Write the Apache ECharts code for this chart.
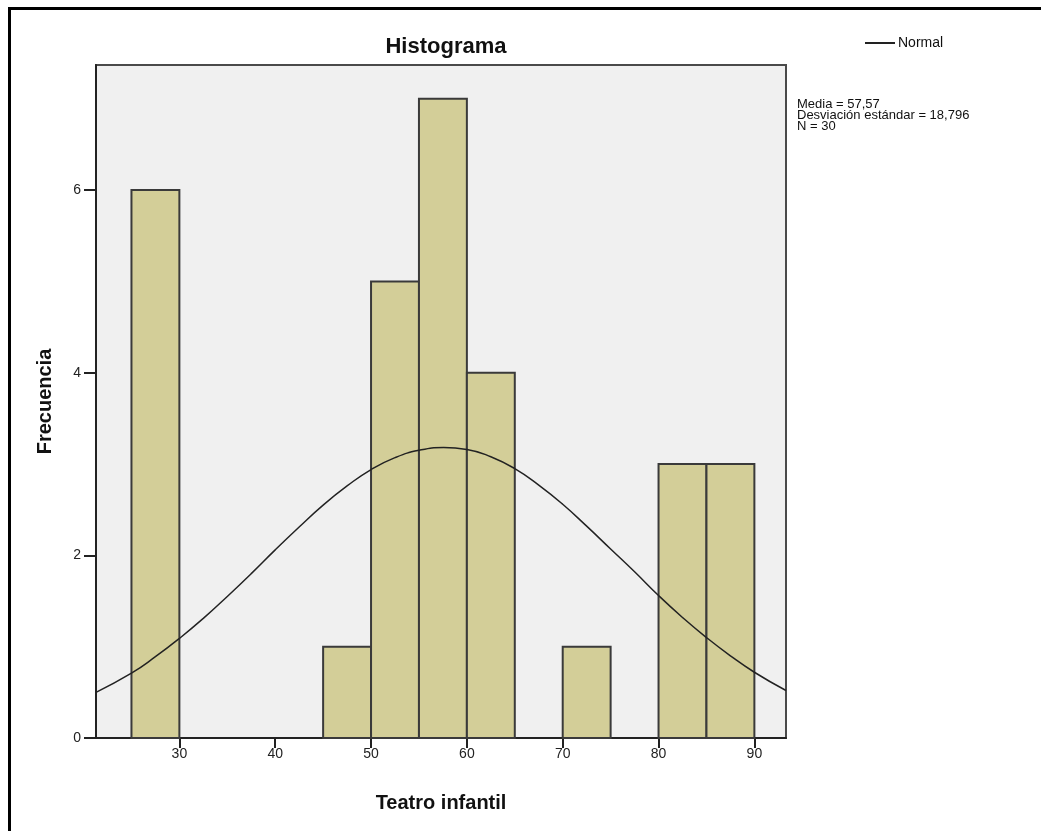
<!DOCTYPE html>
<html>
<head>
<meta charset="utf-8">
<script src="https://cdn.jsdelivr.net/npm/echarts@6/dist/echarts.min.js"></script>
<style>
  html, body { margin: 0; padding: 0; background: #fff; overflow: hidden; }
  #frame { position: absolute; left: 8px; top: 7px; width: 1200px; height: 1000px;
           border-left: 3px solid #000; border-top: 3px solid #000; }
  #chart { position: absolute; left: 0; top: 0; width: 1041px; height: 831px; }
</style>
</head>
<body>
<div id="frame"></div>
<div id="chart"></div>
<script>
// histogram bins (Teatro infantil)
let binStart = [25, 45, 50, 55, 60, 70, 80, 85];
let binEnd   = [30, 50, 55, 60, 65, 75, 85, 90];
let counts   = [6, 1, 5, 7, 4, 1, 3, 3];

// normal curve
let curveX = [21.3, 25, 27.5, 30, 32.5, 35, 37.5, 40, 42.5, 45, 47.5, 50, 52.5, 55, 57.57,
              60, 62.5, 65, 67.5, 70, 72.5, 75, 77.5, 80, 82.5, 85, 87.5, 90, 93.3];
let curveY = [0.50, 0.71, 0.89, 1.09, 1.31, 1.55, 1.80, 2.06, 2.31, 2.55, 2.76, 2.94, 3.07, 3.15, 3.18,
              3.16, 3.08, 2.95, 2.77, 2.56, 2.32, 2.07, 1.82, 1.56, 1.32, 1.10, 0.90, 0.72, 0.52];

let xTicks = [30, 40, 50, 60, 70, 80, 90];
let yTicks = [0, 2, 4, 6];

let statsText = ['Media = 57,57', 'Desviación estándar = 18,796', 'N = 30'];

let font = '"Liberation Sans", Arial, sans-serif';

let chart = echarts.init(document.getElementById('chart'));

let barData = binStart.map((s, i) => [s, binEnd[i], counts[i]]);
let lineData = curveX.map((x, i) => [x, curveY[i]]);

let option = {
    animation: false,
    backgroundColor: 'transparent',
    title: {
        text: 'Histograma',
        left: 441,
        top: 31,
        textAlign: 'center',
        textStyle: { fontFamily: font, fontSize: 22, fontWeight: 'bold', color: '#111' }
    },
    legend: {
        data: ['Normal'],
        left: 860,
        top: 31,
        itemWidth: 30,
        itemHeight: 2,
        itemGap: 4,
        icon: 'rect',
        textStyle: { fontFamily: font, fontSize: 14, color: '#111', padding: [0, 0, 0, -2] }
    },
    grid: {
        left: 96, top: 65, right: 255, bottom: 93,
        show: true,
        backgroundColor: '#f0f0f0',
        borderColor: '#4a4a4a',
        borderWidth: 2
    },
    xAxis: {
        type: 'value',
        min: 21.3,
        max: 93.3,
        name: 'Teatro infantil',
        nameLocation: 'middle',
        nameGap: 55,
        nameTextStyle: { fontFamily: font, fontSize: 20, fontWeight: 'bold', color: '#111' },
        axisLine: { show: true, lineStyle: { color: '#222', width: 2 } },
        axisTick: { show: true, length: 10, customValues: xTicks, lineStyle: { color: '#222', width: 2 } },
        axisLabel: { customValues: xTicks, margin: 9, fontFamily: font, fontSize: 14, color: '#222' },
        splitLine: { show: false }
    },
    yAxis: {
        type: 'value',
        min: 0,
        max: 7.37,
        name: 'Frecuencia',
        nameLocation: 'middle',
        nameGap: 41,
        nameRotate: 90,
        nameTextStyle: { fontFamily: font, fontSize: 20, fontWeight: 'bold', color: '#111' },
        axisLine: { show: true, lineStyle: { color: '#222', width: 2 } },
        axisTick: { show: true, length: 12, customValues: yTicks, lineStyle: { color: '#222', width: 2 } },
        axisLabel: { customValues: yTicks, margin: 15, fontFamily: font, fontSize: 14, color: '#222' },
        splitLine: { show: false }
    },
    graphic: [{
        type: 'text',
        left: 797,
        top: 98,
        style: {
            text: statsText.join('\n'),
            fontFamily: font,
            fontSize: 13,
            lineHeight: 11,
            fill: '#111'
        }
    }],
    series: [{
        name: 'Frecuencia',
        type: 'custom',
        data: barData,
        encode: { x: [0, 1], y: 2 },
        renderItem: function (params, api) {
            let p0 = api.coord([api.value(0), 0]);
            let p1 = api.coord([api.value(1), api.value(2)]);
            return {
                type: 'rect',
                shape: { x: p0[0], y: p1[1], width: p1[0] - p0[0], height: p0[1] - p1[1] },
                style: { fill: '#d3ce98', stroke: '#3a3a3a', lineWidth: 2 }
            };
        },
        z: 2
    }, {
        name: 'Normal',
        type: 'line',
        data: lineData,
        smooth: true,
        showSymbol: false,
        lineStyle: { color: '#222', width: 1.5 },
        itemStyle: { color: '#222' },
        z: 3
    }]
};
chart.setOption(option);
</script>
</body>
</html>
